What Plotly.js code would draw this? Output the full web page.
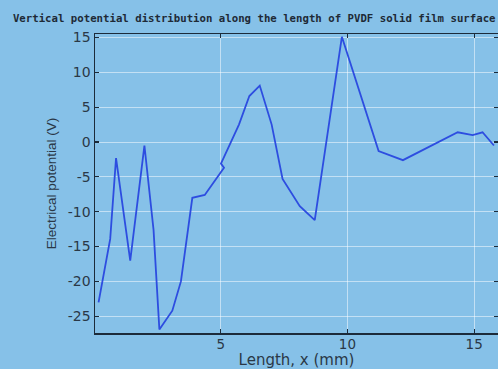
<!DOCTYPE html>
<html>
<head>
<meta charset="utf-8">
<script src="https://cdn.plot.ly/plotly-3.0.1.min.js"></script>
<style>html,body{margin:0;padding:0;background:#86c1e8;}#chart{width:498px;height:369px;}</style>
</head>
<body>
<div id="chart"></div>
<script>
const chartTitle = "Vertical potential distribution along the length of PVDF solid film surface";
const xLabel = "Length, x (mm)";
const yLabel = "Electrical potential (V)";
const lengthMm = [0.18, 0.64, 0.87, 1.43, 1.99, 2.35, 2.58, 3.09, 3.43, 3.88, 4.37, 5.13, 5.01, 5.72, 6.13, 6.54, 7.01, 7.44, 8.12, 8.71, 9.78, 11.23, 12.19, 14.35, 14.94, 15.33, 15.78];
const potentialV = [-23.0, -13.9, -2.3, -17.0, -0.5, -12.6, -26.9, -24.2, -20.0, -8.0, -7.6, -3.7, -3.1, 2.5, 6.6, 8.1, 2.5, -5.3, -9.2, -11.2, 15.1, -1.3, -2.6, 1.4, 1.0, 1.4, -0.5];
const xTickVals = [5, 10, 15];
const xTickText = ["5", "10", "15"];
const yTickVals = [15, 10, 5, 0, -5, -10, -15, -20, -25];
const yTickText = ["15", "10", "5", "0", "-5", "-10", "-15", "-20", "-25"];

const bg = "#86c1e8";
const axisCol = "#1c2b3a";
const gridCol = "rgba(255,255,255,0.5)";

const trace = {
  x: lengthMm, y: potentialV, type: "scatter", mode: "lines",
  line: {color: "#2d4de0", width: 1.8}, hoverinfo: "skip"
};

const layout = {
  width: 498, height: 369,
  paper_bgcolor: bg, plot_bgcolor: bg,
  margin: {l: 95, r: 0, t: 34, b: 36},
  showlegend: false,
  title: {
    text: chartTitle, x: 0.026, xref: "container", xanchor: "left", y: 0.951, yref: "container", yanchor: "middle",
    pad: {l: 0, r: 0}, automargin: false,
    font: {family: "DejaVu Sans Mono", size: 10.7, color: "#1e2a36", weight: "bold"}
  },
  xaxis: {
    range: [0.04, 15.94], tickmode: "array", tickvals: xTickVals, ticktext: xTickText,
    showgrid: true, gridcolor: gridCol, gridwidth: 1, zeroline: false,
    showline: true, linecolor: axisCol, linewidth: 1.5, mirror: "ticks",
    ticks: "inside", ticklen: 4, tickcolor: axisCol, tickwidth: 1.2,
    ticklabelstandoff: -2,
    tickfont: {family: "DejaVu Sans", size: 13.5, color: "#2a3846"},
    title: {text: xLabel, standoff: 4, font: {family: "DejaVu Sans", size: 15, color: "#2a3846"}}
  },
  yaxis: {
    range: [-27.4, 15.5], tickmode: "array", tickvals: yTickVals, ticktext: yTickText,
    showgrid: true, gridcolor: gridCol, gridwidth: 1, zeroline: false,
    showline: true, linecolor: axisCol, linewidth: 1.5, mirror: "ticks",
    ticks: "inside", ticklen: 4, tickcolor: axisCol, tickwidth: 1.2,
    tickfont: {family: "DejaVu Sans", size: 14, color: "#2a3846"},
    title: {text: yLabel, standoff: 8, font: {family: "Liberation Sans", size: 13.5, color: "#2a3846"}}
  }
};
Plotly.newPlot("chart", [trace], layout, {displayModeBar: false, staticPlot: true});
</script>
</body>
</html>
